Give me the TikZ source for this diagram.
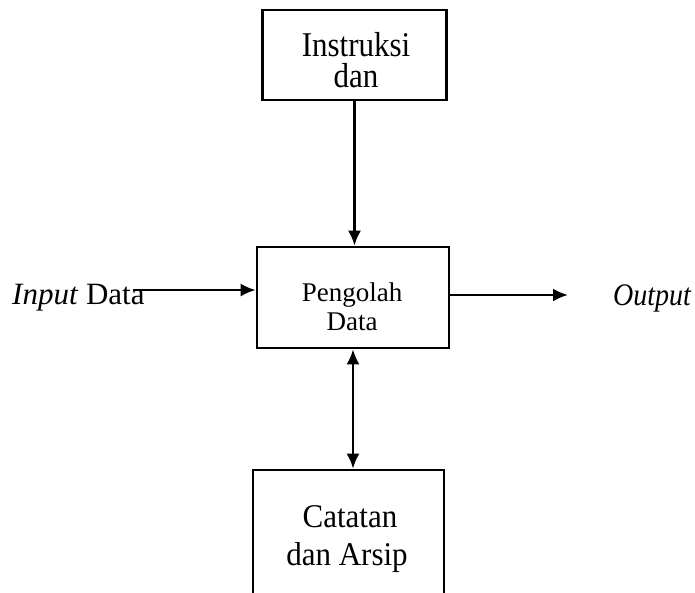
\documentclass[tikz,border=0pt]{standalone}
\usepackage{fontspec}
\setmainfont{Liberation Serif}
\usetikzlibrary{arrows.meta}
\begin{document}
\begin{tikzpicture}[x=1pt,y=-1pt,
  box/.style={draw,line width=2.6pt,inner sep=0pt},
  tip/.tip={Latex[length=15pt,width=13pt]},
  conn/.style={line width=2.4pt,-tip},
  both/.style={line width=2.4pt,tip-tip},
  lbl/.style={inner sep=0pt,anchor=base},
  big/.style={font=\fontsize{31}{37}\selectfont},
  mid/.style={font=\fontsize{27}{32}\selectfont}]
\clip (0,0) rectangle (695,593);
\node[box,minimum width=184pt,minimum height=90pt] (instr) at (354.5,55) {};
\node[box,minimum width=192pt,minimum height=101pt] (proc) at (353,297.5) {};
\node[box,minimum width=191pt,minimum height=160pt] (arsip) at (348.5,550) {};
% texts
\node[lbl,big] (t1) at (356,57) {\scalebox{1}[1.12]{Instruksi}};
\node[lbl,big] (t2) at (356,88) {\scalebox{1}[1.12]{dan}};
\node[lbl,mid] (t3) at (352,301) {Pengolah};
\node[lbl,mid] (t4) at (352,330) {Data};
\node[lbl,big] (t5) at (350,527) {\scalebox{1}[1.07]{Catatan}};
\node[lbl,big] (t6) at (347,565) {\scalebox{1}[1.07]{dan Arsip}};
\node[lbl,big,anchor=base west] (inlbl) at (12,304) {\textit{Input} Data};
\node[lbl,anchor=base west,font=\fontsize{28}{32}\selectfont] (outlbl) at (613,305) {\scalebox{1}[1.12]{\textit{Output}}};
% connectors
\coordinate (inStart) at (133,290);
\coordinate (outEnd) at (568,295);
\draw[conn] (instr.south) -- (instr.south |- proc.north);
\draw[both] (proc.south) -- (proc.south |- arsip.north);
\draw[conn] (inStart) -- (inStart -| proc.west);
\draw[conn] (outEnd -| proc.east) -- (outEnd);
\end{tikzpicture}
\end{document}
